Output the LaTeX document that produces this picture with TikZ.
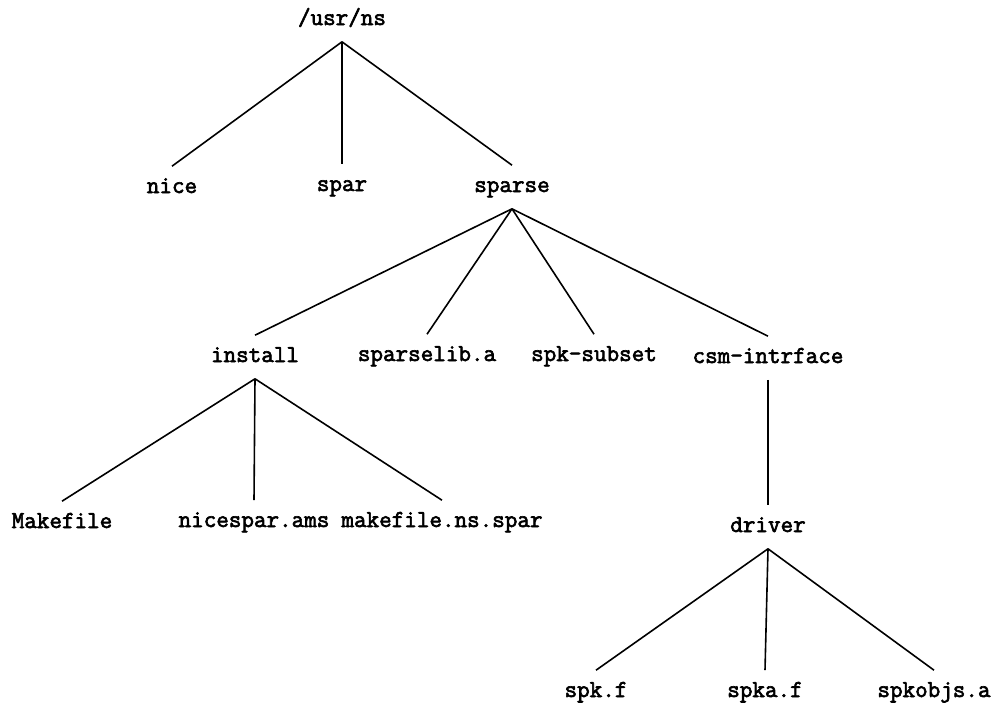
\documentclass[tikz,border=0pt]{standalone}
\usepackage{fontspec}
\newfontfamily\treefont{Latin Modern Mono}[FakeBold=2.6]
\usepackage{tikz}

\begin{document}
\begin{tikzpicture}[x=0.5pt,y=0.5pt,yscale=-1,xscale=1,line width=0.8pt,
  dirname/.style={font=\fontsize{12.2}{14}\selectfont\treefont,inner xsep=1pt,inner ysep=6pt,text height=7pt,text depth=2pt}]
\useasboundingbox (0,0) rectangle (995,708);

% Text Node
\node (usr) [dirname] at (342,20) {/usr/ns};
% Text Node
\node (nice) [dirname] at (172,188) {nice};
% Text Node
\node (spar) [dirname] at (342,186) {spar};
% Text Node
\node (sparse) [dirname] at (512,187) {sparse};
% Text Node
\node (install) [dirname] at (255,357) {install};
% Text Node
\node (sparselib) [dirname] at (427,356) {sparselib.a};
% Text Node
\node (subset) [dirname] at (594,356) {spk-subset};
% Text Node
\node (csm) [dirname] at (768,358) {csm-intrface};
% Text Node
\node (make) [dirname] at (62,523) {Makefile};
% Text Node
\node (nicespar) [dirname] at (254,522) {nicespar.ams};
% Text Node
\node (makens) [dirname] at (442,522) {makefile.ns.spar};
% Text Node
\node (driver) [dirname] at (768,527) {driver};
% Text Node
\node (spkf) [dirname] at (596,692) {spk.f};
% Text Node
\node (spkaf) [dirname] at (765,692) {spka.f};
% Text Node
\node (spkobjs) [dirname] at (934,692) {spkobjs.a};

%Straight Lines
\draw (usr.south) -- (nice.north) ;
\draw (usr.south) -- (spar.north) ;
\draw (usr.south) -- (sparse.north) ;
%Straight Lines
\draw (sparse.south) -- (install.north) ;
\draw (sparse.south) -- (sparselib.north) ;
\draw (sparse.south) -- (subset.north) ;
\draw (sparse.south) -- (csm.north) ;
%Straight Lines
\draw (install.south) -- (make.north) ;
\draw (install.south) -- (nicespar.north) ;
\draw (install.south) -- (makens.north) ;
%Straight Lines
\draw (csm.south) -- (driver.north) ;
%Straight Lines
\draw (driver.south) -- (spkf.north) ;
\draw (driver.south) -- (spkaf.north) ;
\draw (driver.south) -- (spkobjs.north) ;

\end{tikzpicture}
\end{document}
